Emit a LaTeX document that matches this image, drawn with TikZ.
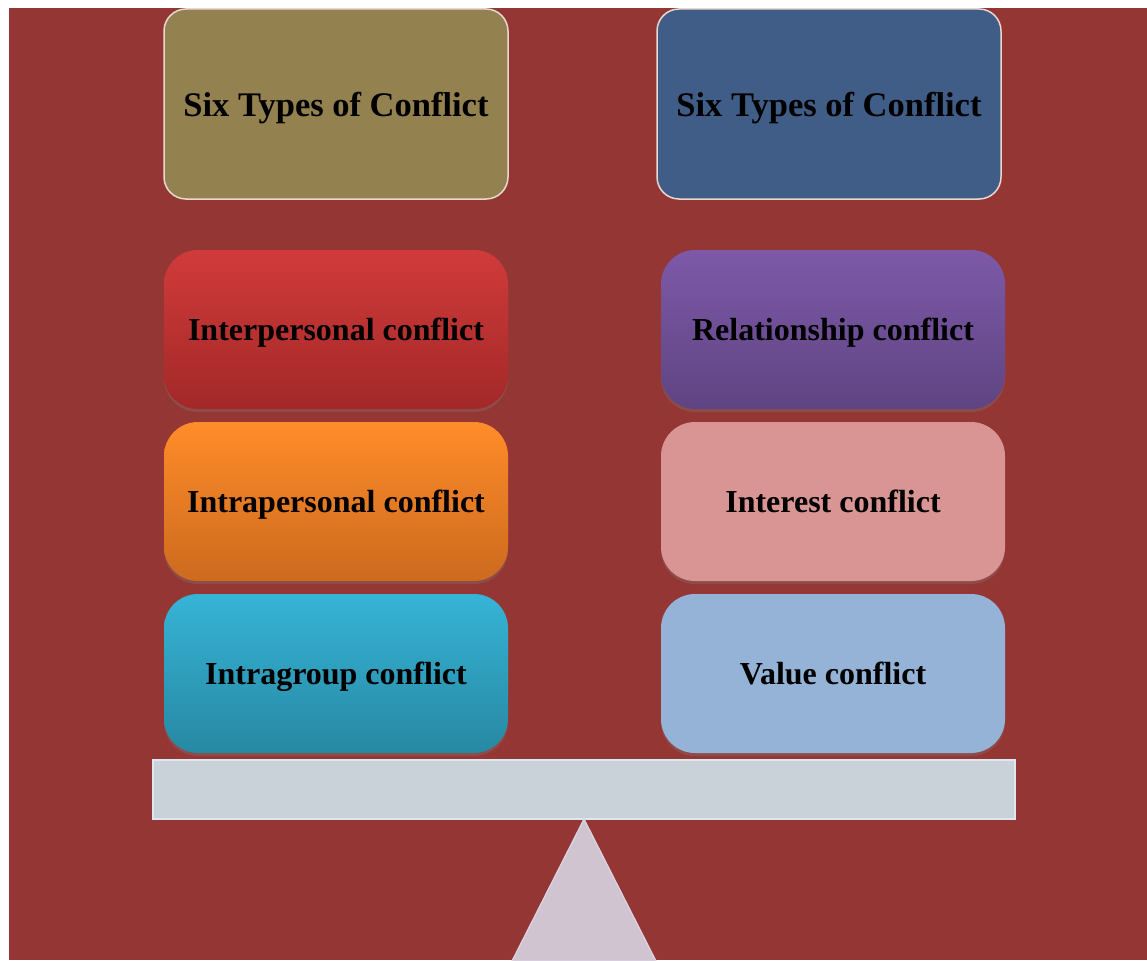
\documentclass[tikz,border=0pt]{standalone}
\usepackage{fontspec}
\setmainfont{Liberation Serif}
\usetikzlibrary{positioning,shadows}

\definecolor{bgred}{HTML}{943634}
\definecolor{olivehead}{HTML}{948150}
\definecolor{bluehead}{HTML}{405D88}
\definecolor{headline}{HTML}{E8D8D2}
\definecolor{redtop}{HTML}{D03B3A}
\definecolor{redbot}{HTML}{A32828}
\definecolor{orangetop}{HTML}{FF8C2A}
\definecolor{orangebot}{HTML}{CC6A1E}
\definecolor{cyantop}{HTML}{36B4D6}
\definecolor{cyanbot}{HTML}{2788A2}
\definecolor{violettop}{HTML}{7D59A8}
\definecolor{violetbot}{HTML}{5F4482}
\definecolor{pinkbox}{HTML}{D99594}
\definecolor{bluebox}{HTML}{95B3D7}
\definecolor{beamgray}{HTML}{CAD2D9}
\definecolor{beamline}{HTML}{DCE8EE}
\definecolor{pivotfill}{HTML}{D0C4D0}
\definecolor{pivotline}{HTML}{DCD4E4}

\tikzset{
  box/.style={rectangle,rounded corners=34pt,minimum width=344pt,minimum height=159pt,
    outer sep=0pt,inner sep=0pt,align=center,text depth=0pt,
    font=\fontsize{32}{38}\selectfont\bfseries,
    drop shadow={opacity=0.3,shadow xshift=0pt,shadow yshift=-3pt}},
  headbox/.style={rectangle,rounded corners=22pt,minimum width=344pt,minimum height=190pt,
    outer sep=0pt,inner sep=0pt,align=center,text depth=0pt,
    font=\fontsize{34.5}{40}\selectfont\bfseries,draw=headline,line width=1.5pt},
  shadebox/.style 2 args={box,top color=#1,bottom color=#2}
}

\begin{document}
\begin{tikzpicture}[x=1pt,y=-1pt,node distance=13pt]
  \useasboundingbox (0,0) rectangle (1147,960);
  \fill[bgred] (9,8) rectangle (1147,960);

  % headers
  \node[headbox,fill=olivehead] (lhead) at (336,104) {Six Types of Conflict};
  \node[headbox,fill=bluehead] (rhead) at (829,104) {Six Types of Conflict};

  % left column
  \node[shadebox={redtop}{redbot}] (inter) at (336,329.5) {Interpersonal conflict};
  \node[shadebox={orangetop}{orangebot}] (intra)[below=of inter] {Intrapersonal conflict};
  \node[shadebox={cyantop}{cyanbot}] (group)[below=of intra] {Intragroup conflict};

  % right column
  \node[shadebox={violettop}{violetbot}] (rel) at (833,329.5) {Relationship conflict};
  \node[box,fill=pinkbox] (interest)[below=of rel] {Interest conflict};
  \node[box,fill=bluebox] (value)[below=of interest] {Value conflict};

  % seesaw
  \node[rectangle,fill=beamgray,draw=beamline,line width=1.2pt,minimum width=862pt,minimum height=59pt,outer sep=0pt] (beam) at (584,789.5) {};
  \begin{scope}
    \clip (9,8) rectangle (1147,960);
    \filldraw[fill=pivotfill,draw=pivotline,line width=1.2pt] (beam.south) -- ++(-72,142) -- ++(144,0) -- cycle;
  \end{scope}
\end{tikzpicture}
\end{document}
